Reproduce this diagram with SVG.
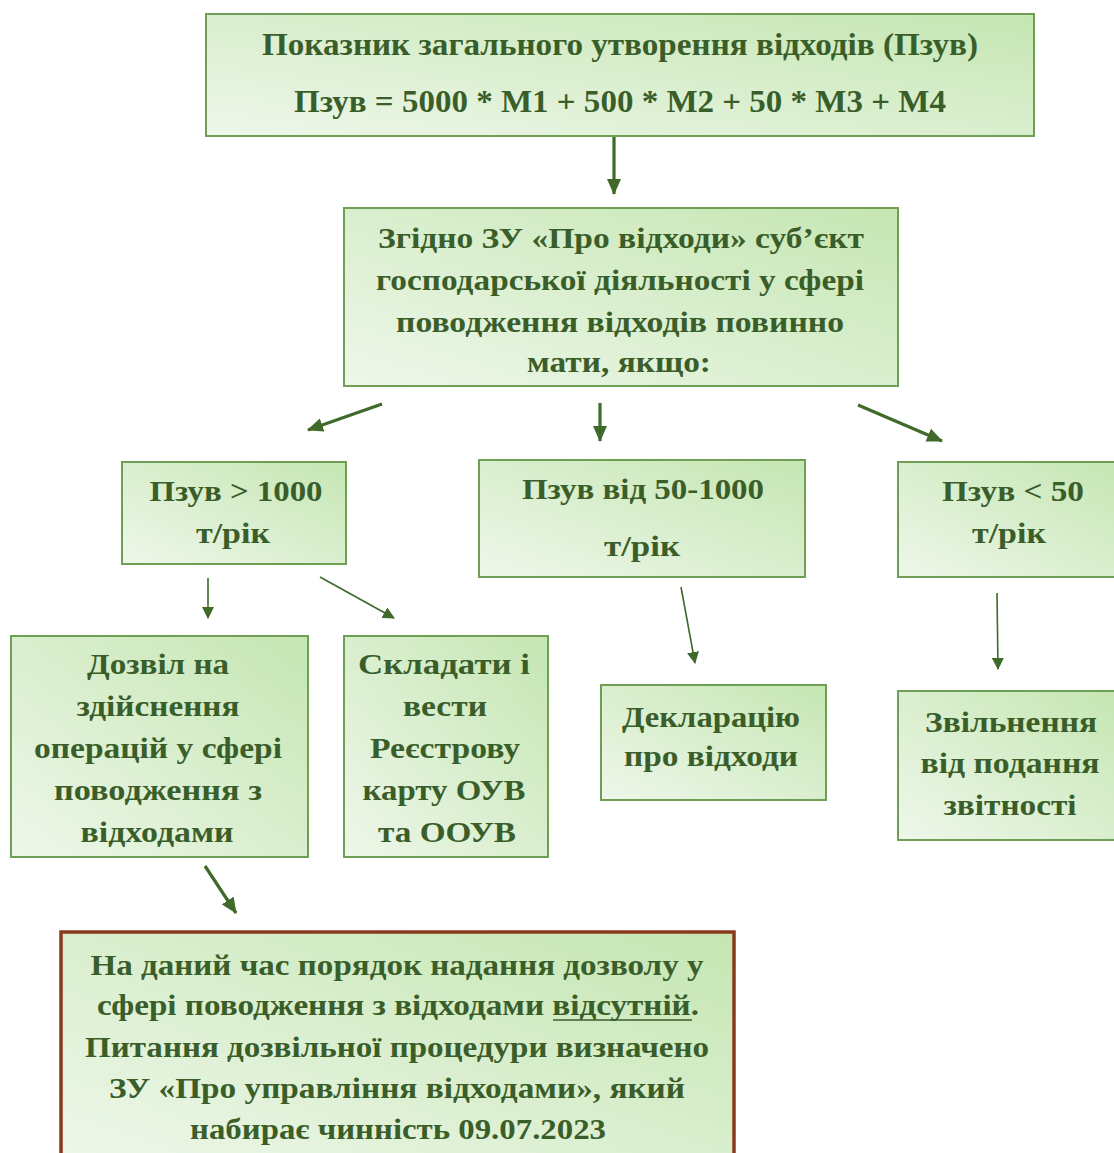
<svg xmlns="http://www.w3.org/2000/svg" width="1114" height="1153" viewBox="0 0 1114 1153">
<style>
  .box{fill:url(#g);stroke:#6f9e55;stroke-width:2}
  .warn{fill:url(#g);stroke:#8a3a1c;stroke-width:3.5}
  text{font-family:"Liberation Serif","Times New Roman",serif;font-weight:bold;fill:#3a5e29;text-anchor:middle;font-size:29px}
  .big{font-size:31px}
  .c{stroke:#3f6a2a;fill:none}
  .thick{stroke-width:3.2;marker-end:url(#ah)}
  .thin{stroke-width:1.6;marker-end:url(#as)}
</style>
<defs>
  <linearGradient id="g" x1="0" y1="1" x2="1" y2="0">
    <stop offset="0" stop-color="#eef7ea"/>
    <stop offset="1" stop-color="#c5e6b2"/>
  </linearGradient>
  <marker id="ah" markerUnits="userSpaceOnUse" markerWidth="16" markerHeight="14" viewBox="0 0 16 14" refX="15" refY="7" orient="auto">
    <path d="M0,0 L16,7 L0,14 Z" fill="#3f6a2a"/>
  </marker>
  <marker id="as" markerUnits="userSpaceOnUse" markerWidth="12" markerHeight="12" viewBox="0 0 12 12" refX="11" refY="6" orient="auto">
    <path d="M0,0 L12,6 L0,12 Z" fill="#3f6a2a"/>
  </marker>
</defs>

<g id="connectors">
  <line class="c thick" x1="614" y1="136" x2="614" y2="194"/>
  <line class="c thick" x1="382" y1="404" x2="308" y2="430"/>
  <line class="c thick" x1="600" y1="403" x2="600" y2="441"/>
  <line class="c thick" x1="858" y1="405" x2="942" y2="441"/>
  <line class="c thin" x1="208" y1="578" x2="208" y2="618"/>
  <line class="c thin" x1="320" y1="577" x2="394" y2="618"/>
  <line class="c thin" x1="681" y1="587" x2="695" y2="663"/>
  <line class="c thin" x1="997" y1="593" x2="998" y2="669"/>
  <line class="c thick" x1="205" y1="866" x2="236" y2="913"/>
</g>

<g id="n-top">
  <rect class="box" x="206" y="14" width="828" height="122"/>
  <text class="big" x="620" y="55" textLength="716" lengthAdjust="spacingAndGlyphs">Показник загального утворення відходів (Пзув)</text>
  <text class="big" x="620" y="112" textLength="652" lengthAdjust="spacingAndGlyphs">Пзув = 5000 * M1 + 500 * M2 + 50 * M3 + M4</text>
</g>

<g id="n-law">
  <rect class="box" x="344" y="208" width="554" height="178"/>
  <text x="621" y="248" textLength="486" lengthAdjust="spacingAndGlyphs">Згідно ЗУ «Про відходи» суб’єкт</text>
  <text x="620" y="290" textLength="488" lengthAdjust="spacingAndGlyphs">господарської діяльності у сфері</text>
  <text x="620" y="332" textLength="448" lengthAdjust="spacingAndGlyphs">поводження відходів повинно</text>
  <text x="619" y="372" textLength="184" lengthAdjust="spacingAndGlyphs">мати, якщо:</text>
</g>

<g id="n-gt1000">
  <rect class="box" x="122" y="462" width="224" height="102"/>
  <text x="236" y="501" textLength="173" lengthAdjust="spacingAndGlyphs">Пзув &gt; 1000</text>
  <text x="233" y="543" textLength="74" lengthAdjust="spacingAndGlyphs">т/рік</text>
</g>

<g id="n-50-1000">
  <rect class="box" x="479" y="460" width="326" height="117"/>
  <text x="643" y="499" textLength="242" lengthAdjust="spacingAndGlyphs">Пзув від 50-1000</text>
  <text x="642" y="556" textLength="76" lengthAdjust="spacingAndGlyphs">т/рік</text>
</g>

<g id="n-lt50">
  <rect class="box" x="898" y="462" width="220" height="115"/>
  <text x="1013" y="501" textLength="142" lengthAdjust="spacingAndGlyphs">Пзув &lt; 50</text>
  <text x="1009" y="543" textLength="74" lengthAdjust="spacingAndGlyphs">т/рік</text>
</g>

<g id="n-permit">
  <rect class="box" x="11" y="636" width="297" height="221"/>
  <text x="158" y="674" textLength="142" lengthAdjust="spacingAndGlyphs">Дозвіл на</text>
  <text x="158" y="716" textLength="163" lengthAdjust="spacingAndGlyphs">здійснення</text>
  <text x="158" y="758" textLength="248" lengthAdjust="spacingAndGlyphs">операцій у сфері</text>
  <text x="158" y="800" textLength="208" lengthAdjust="spacingAndGlyphs">поводження з</text>
  <text x="157" y="842" textLength="153" lengthAdjust="spacingAndGlyphs">відходами</text>
</g>

<g id="n-register">
  <rect class="box" x="344" y="636" width="204" height="221"/>
  <text x="444" y="674" textLength="172" lengthAdjust="spacingAndGlyphs">Складати  і</text>
  <text x="445" y="716" textLength="84" lengthAdjust="spacingAndGlyphs">вести</text>
  <text x="445" y="758" textLength="150" lengthAdjust="spacingAndGlyphs">Реєстрову</text>
  <text x="444" y="800" textLength="163" lengthAdjust="spacingAndGlyphs">карту ОУВ</text>
  <text x="447" y="842" textLength="138" lengthAdjust="spacingAndGlyphs">та ООУВ</text>
</g>

<g id="n-declaration">
  <rect class="box" x="601" y="685" width="225" height="115"/>
  <text x="711" y="727" textLength="178" lengthAdjust="spacingAndGlyphs">Декларацію</text>
  <text x="711" y="766" textLength="174" lengthAdjust="spacingAndGlyphs">про відходи</text>
</g>

<g id="n-exempt">
  <rect class="box" x="898" y="691" width="220" height="149"/>
  <text x="1011" y="732" textLength="172" lengthAdjust="spacingAndGlyphs">Звільнення</text>
  <text x="1010" y="773" textLength="179" lengthAdjust="spacingAndGlyphs">від подання</text>
  <text x="1010" y="815" textLength="133" lengthAdjust="spacingAndGlyphs">звітності</text>
</g>

<g id="n-note">
  <rect class="warn" x="61" y="932" width="673" height="230"/>
  <text x="397" y="975" textLength="613" lengthAdjust="spacingAndGlyphs">На даний час порядок надання дозволу у</text>
  <text x="398" y="1015" textLength="602" lengthAdjust="spacingAndGlyphs">сфері поводження з відходами відсутній.</text>
  <line x1="553" y1="1020" x2="692" y2="1020" stroke="#3a5e29" stroke-width="1.6"/>
  <text x="397" y="1057" textLength="624" lengthAdjust="spacingAndGlyphs">Питання дозвільної процедури визначено</text>
  <text x="397" y="1098" textLength="576" lengthAdjust="spacingAndGlyphs">ЗУ «Про управління відходами», який</text>
  <text x="398" y="1139" textLength="416" lengthAdjust="spacingAndGlyphs">набирає чинність 09.07.2023</text>
</g>
</svg>
